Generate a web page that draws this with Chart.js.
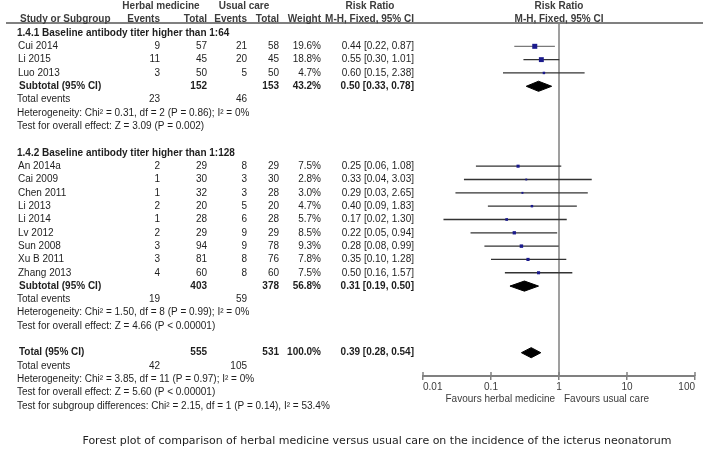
<!DOCTYPE html>
<html>
<head>
<meta charset="utf-8">
<script src="https://cdn.jsdelivr.net/npm/chart.js@4.4.1/dist/chart.umd.min.js"></script>
<style>
html, body { margin: 0; padding: 0; background: #fff; }
#wrap { width: 707px; height: 450px; }
</style>
</head>
<body>
<div id="wrap"><canvas id="forest" width="707" height="450"></canvas></div>
<script>
// Individual studies
const studyNames = ['Cui 2014', 'Li 2015', 'Luo 2013', 'An 2014a', 'Cai 2009', 'Chen 2011', 'Li 2013', 'Li 2014', 'Lv 2012', 'Sun 2008', 'Xu B 2011', 'Zhang 2013'];
const studyRows = [1, 2, 3, 10, 11, 12, 13, 14, 15, 16, 17, 18];
const herbalEvents = [9, 11, 3, 2, 1, 1, 2, 1, 2, 3, 3, 4];
const herbalTotal = [57, 45, 50, 29, 30, 32, 20, 28, 29, 94, 81, 60];
const usualEvents = [21, 20, 5, 8, 3, 3, 5, 6, 9, 9, 8, 8];
const usualTotal = [58, 45, 50, 29, 30, 28, 20, 28, 29, 78, 76, 60];
const weights = [19.6, 18.8, 4.7, 7.5, 2.8, 3.0, 4.7, 5.7, 8.5, 9.3, 7.8, 7.5];
const riskRatio = [0.44, 0.55, 0.60, 0.25, 0.33, 0.29, 0.40, 0.17, 0.22, 0.28, 0.35, 0.50];
const ciLow = [0.22, 0.30, 0.15, 0.06, 0.04, 0.03, 0.09, 0.02, 0.05, 0.08, 0.10, 0.16];
const ciHigh = [0.87, 1.01, 2.38, 1.08, 3.03, 2.65, 1.83, 1.30, 0.94, 0.99, 1.28, 1.57];

// Pooled estimates: subgroup 1.4.1, subgroup 1.4.2, overall
const pooledLabels = ['Subtotal (95% CI)', 'Subtotal (95% CI)', 'Total (95% CI)'];
const pooledRows = [4, 19, 24];
const pooledHerbalTotal = [152, 403, 555];
const pooledUsualTotal = [153, 378, 531];
const pooledWeight = [43.2, 56.8, 100.0];
const pooledRR = [0.50, 0.31, 0.39];
const pooledLow = [0.33, 0.19, 0.28];
const pooledHigh = [0.78, 0.50, 0.54];

const eventRows = [5, 20, 25];
const eventHerbal = [23, 19, 42];
const eventUsual = [46, 59, 105];

const groupHeaders = ['1.4.1 Baseline antibody titer higher than 1:64', '1.4.2 Baseline antibody titer higher than 1:128'];
const groupRows = [0, 9];

const noteRows = [6, 7, 21, 22, 26, 27, 28];
const noteTexts = [
    'Heterogeneity: Chi\u00b2 = 0.31, df = 2 (P = 0.86); I\u00b2 = 0%',
    'Test for overall effect: Z = 3.09 (P = 0.002)',
    'Heterogeneity: Chi\u00b2 = 1.50, df = 8 (P = 0.99); I\u00b2 = 0%',
    'Test for overall effect: Z = 4.66 (P < 0.00001)',
    'Heterogeneity: Chi\u00b2 = 3.85, df = 11 (P = 0.97); I\u00b2 = 0%',
    'Test for overall effect: Z = 5.60 (P < 0.00001)',
    'Test for subgroup differences: Chi\u00b2 = 2.15, df = 1 (P = 0.14), I\u00b2 = 53.4%'
];

const xTicks = [0.01, 0.1, 1, 10, 100];
const xTickLabels = ['0.01', '0.1', '1', '10', '100'];

const FONT = '"Liberation Sans", Arial, sans-serif';
const TEXT = '#1e1e1e';
const HEAD = '#3c3c3c';
const GREY = '#808080';

function fmtCI(rr, lo, hi) {
    return rr.toFixed(2) + ' [' + lo.toFixed(2) + ', ' + hi.toFixed(2) + ']';
}

// CI whiskers, one line per study
const ciSets = studyNames.map((name, i) => ({
    type: 'line',
    data: [{ x: ciLow[i], y: studyRows[i] }, { x: ciHigh[i], y: studyRows[i] }],
    borderColor: i === 0 ? '#7a7a7a' : '#333333',
    borderWidth: 1.3,
    pointRadius: 0,
    order: 3
}));

// Pooled diamonds
const diamondSets = pooledRows.map((r, i) => ({
    type: 'line',
    data: [
        { x: pooledLow[i], y: r },
        { x: pooledRR[i], y: r - 0.38 },
        { x: pooledHigh[i], y: r },
        { x: pooledRR[i], y: r + 0.38 },
        { x: pooledLow[i], y: r }
    ],
    borderColor: '#000',
    backgroundColor: '#000',
    borderWidth: 1,
    fill: 'shape',
    tension: 0,
    pointRadius: 0,
    order: 1
}));

const config = {
    type: 'scatter',
    data: {
        datasets: [
            {
                type: 'line',
                data: [{ x: 1, y: -0.75 }, { x: 1, y: 25.75 }],
                borderColor: GREY,
                borderWidth: 1.5,
                pointRadius: 0,
                order: 4
            },
            ...ciSets,
            {
                type: 'scatter',
                data: studyRows.map((r, i) => ({ x: riskRatio[i], y: r })),
                pointStyle: 'rect',
                pointRadius: weights.map(w => Math.sqrt(w) * 0.8),
                backgroundColor: '#1a1a8c',
                borderWidth: 0,
                order: 2
            },
            ...diamondSets
        ]
    },
    options: {
        responsive: false,
        animation: false,
        devicePixelRatio: 1,
        layout: { padding: { left: 423, right: 12, top: 23, bottom: 52 } },
        plugins: {
            legend: { display: false },
            tooltip: { enabled: false }
        },
        scales: {
            x: {
                type: 'logarithmic',
                min: 0.01,
                max: 100,
                afterBuildTicks: s => { s.ticks = xTicks.map(v => ({ value: v })); },
                afterFit: s => { s.height = 22; },
                ticks: {
                    callback: (v, i) => xTickLabels[i],
                    align: 'inner',
                    autoSkip: false,
                    maxRotation: 0,
                    padding: 1,
                    color: HEAD,
                    font: { family: FONT, size: 10 }
                },
                grid: {
                    drawOnChartArea: false,
                    drawTicks: true,
                    tickLength: 4,
                    color: GREY,
                    lineWidth: 1.5
                },
                border: { display: true, color: GREY, width: 2 }
            },
            y: {
                type: 'linear',
                reverse: true,
                min: -0.75,
                max: 25.75,
                display: false
            }
        }
    },
    plugins: [{
        id: 'forestText',
        afterDraw(chart) {
            const ctx = chart.ctx;
            const ys = chart.scales.y;
            const xs = chart.scales.x;
            const area = chart.chartArea;
            const rowY = r => ys.getPixelForValue(r);

            function txt(s, x, y, align, bold, color) {
                ctx.font = (bold ? 'bold ' : '') + '10px ' + FONT;
                ctx.fillStyle = color || TEXT;
                ctx.textAlign = align;
                ctx.textBaseline = 'middle';
                ctx.fillText(s, x, y);
            }

            ctx.save();

            // upper half of the axis ticks
            ctx.strokeStyle = GREY;
            ctx.lineWidth = 1.5;
            xTicks.forEach(v => {
                const x = xs.getPixelForValue(v);
                ctx.beginPath();
                ctx.moveTo(x, area.bottom - 4);
                ctx.lineTo(x, area.bottom);
                ctx.stroke();
            });

            // header rule
            ctx.lineWidth = 2;
            ctx.beginPath();
            ctx.moveTo(6, area.top);
            ctx.lineTo(703, area.top);
            ctx.stroke();

            // column headers
            const xMid = xs.getPixelForValue(1);
            txt('Herbal medicine', 161, rowY(-2), 'center', true, HEAD);
            txt('Usual care', 244, rowY(-2), 'center', true, HEAD);
            txt('Risk Ratio', 370, rowY(-2), 'center', true, HEAD);
            txt('Risk Ratio', xMid, rowY(-2), 'center', true, HEAD);
            txt('Study or Subgroup', 20, rowY(-1), 'left', true, HEAD);
            txt('Events', 160, rowY(-1), 'right', true, HEAD);
            txt('Total', 207, rowY(-1), 'right', true, HEAD);
            txt('Events', 247, rowY(-1), 'right', true, HEAD);
            txt('Total', 279, rowY(-1), 'right', true, HEAD);
            txt('Weight', 321, rowY(-1), 'right', true, HEAD);
            txt('M-H, Fixed, 95% CI', 414, rowY(-1), 'right', true, HEAD);
            txt('M-H, Fixed, 95% CI', xMid, rowY(-1), 'center', true, HEAD);

            groupHeaders.forEach((g, i) => txt(g, 17, rowY(groupRows[i]), 'left', true));

            studyNames.forEach((n, i) => {
                const y = rowY(studyRows[i]);
                txt(n, 18, y, 'left');
                txt(String(herbalEvents[i]), 160, y, 'right');
                txt(String(herbalTotal[i]), 207, y, 'right');
                txt(String(usualEvents[i]), 247, y, 'right');
                txt(String(usualTotal[i]), 279, y, 'right');
                txt(weights[i].toFixed(1) + '%', 321, y, 'right');
                txt(fmtCI(riskRatio[i], ciLow[i], ciHigh[i]), 414, y, 'right');
            });

            pooledRows.forEach((r, i) => {
                const y = rowY(r);
                txt(pooledLabels[i], 19, y, 'left', true);
                txt(String(pooledHerbalTotal[i]), 207, y, 'right', true);
                txt(String(pooledUsualTotal[i]), 279, y, 'right', true);
                txt(pooledWeight[i].toFixed(1) + '%', 321, y, 'right', true);
                txt(fmtCI(pooledRR[i], pooledLow[i], pooledHigh[i]), 414, y, 'right', true);
            });

            eventRows.forEach((r, i) => {
                const y = rowY(r);
                txt('Total events', 17, y, 'left');
                txt(String(eventHerbal[i]), 160, y, 'right');
                txt(String(eventUsual[i]), 247, y, 'right');
            });

            noteRows.forEach((r, i) => txt(noteTexts[i], 17, rowY(r), 'left'));

            // favours labels under the axis
            txt('Favours herbal medicine', xMid - 4, area.bottom + 23, 'right', false, HEAD);
            txt('Favours usual care', xMid + 5, area.bottom + 23, 'left', false, HEAD);

            // caption
            ctx.font = '11px "DejaVu Sans", Verdana, sans-serif';
            ctx.fillStyle = TEXT;
            ctx.textAlign = 'center';
            ctx.textBaseline = 'middle';
            ctx.fillText('Forest plot of comparison of herbal medicine versus usual care on the incidence of the icterus neonatorum', 377, 441);

            ctx.restore();
        }
    }]
};

const forestChart = new Chart(document.getElementById('forest').getContext('2d'), config);
</script>
</body>
</html>
